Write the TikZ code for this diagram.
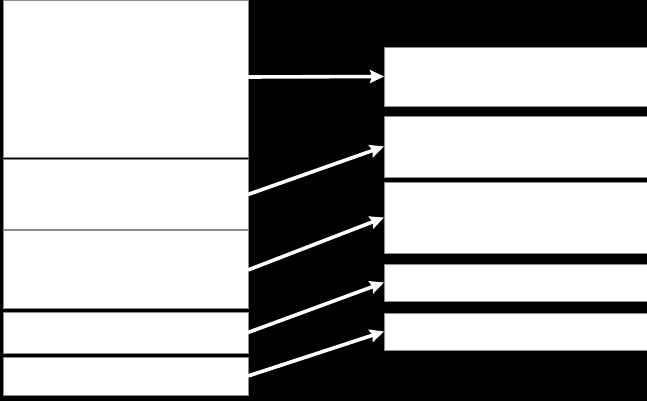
\documentclass[tikz,border=0pt]{standalone}
\usetikzlibrary{arrows.meta}
\begin{document}
\begin{tikzpicture}[x=1pt,y=-1pt,
  box/.style={draw=black!45,line width=0.6pt,fill=white,rectangle,inner sep=0pt,outer sep=0pt,anchor=north west},
  link/.style={draw=white,line width=3.6pt,-{Stealth[length=14pt,width=13pt,inset=2pt]}}]
\fill[black] (0,0) rectangle (647,401);
\useasboundingbox (0,0) rectangle (647,401);
% left column
\node[box,minimum width=245pt,minimum height=157pt] (l1) at (3,0) {};
\node[box,minimum width=245pt,minimum height=70pt] (l2) at (3,159.5) {};
\node[box,minimum width=245pt,minimum height=78pt] (l3) at (3,230) {};
\node[box,minimum width=245pt,minimum height=41pt] (l4) at (3,312) {};
\node[box,minimum width=245pt,minimum height=38pt] (l5) at (3,357) {};
% right column
\node[box,minimum width=264pt,minimum height=59pt] (r1) at (384,47) {};
\node[box,minimum width=264pt,minimum height=61pt] (r2) at (384,116) {};
\node[box,minimum width=264pt,minimum height=71pt] (r3) at (384,182) {};
\node[box,minimum width=264pt,minimum height=37pt] (r4) at (384,264) {};
\node[box,minimum width=264pt,minimum height=37pt] (r5) at (384,313) {};
% arrows
\draw[link] ([yshift=1.5pt]l1.east) -- (r1.west);
\draw[link] (l2.east) -- (r2.west);
\draw[link] ([yshift=-1pt]l3.east) -- (r3.west);
\draw[link] (l4.east) -- (r4.west);
\draw[link] (l5.east) -- (r5.west);
\end{tikzpicture}
\end{document}
